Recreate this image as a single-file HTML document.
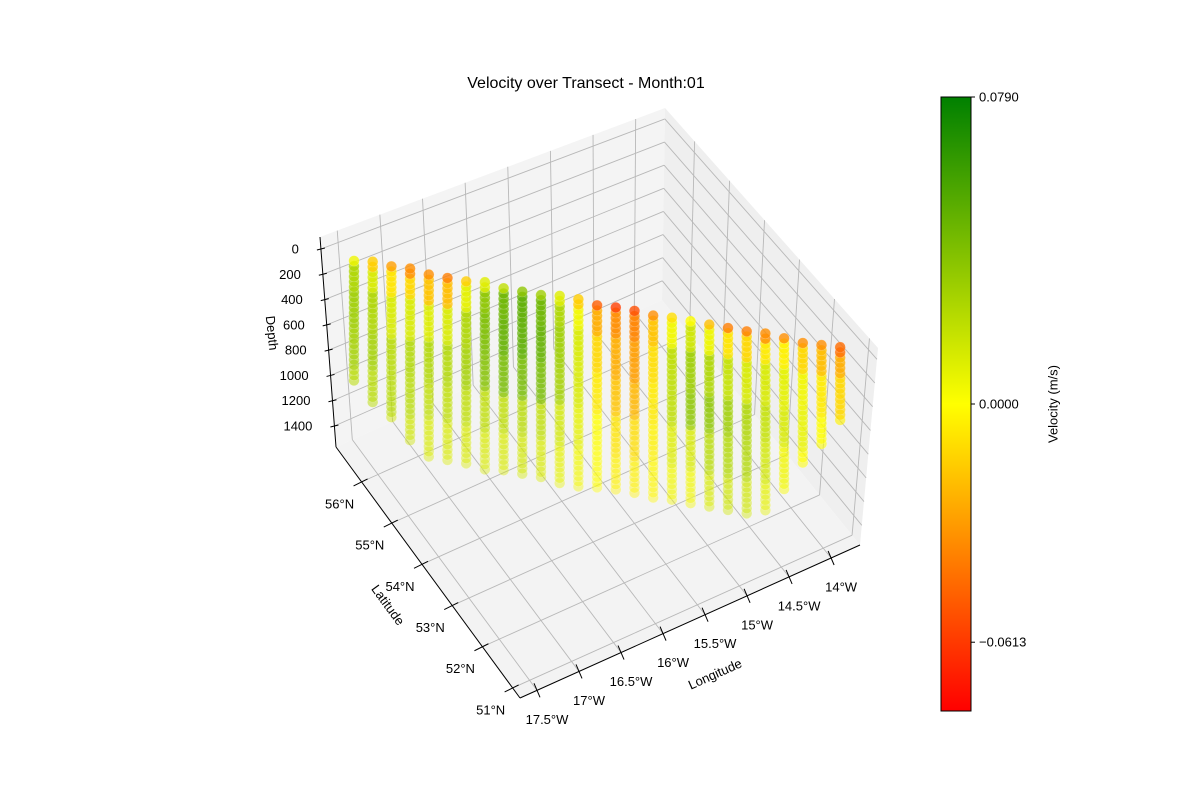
<!DOCTYPE html>
<html><head><meta charset="utf-8">
<style>
body{margin:0;background:#fff;}
svg{display:block;font-family:"Liberation Sans","DejaVu Sans",sans-serif;}
</style></head>
<body>
<svg id="c" width="1200" height="800" viewBox="0 0 1200 800">
<text x="586" y="88" font-size="16" text-anchor="middle">Velocity over Transect - Month:01</text>
<g id="panes"></g>
<g id="grid"></g>
<g id="axes"></g>
<g id="pts"></g>
<g id="cbar"></g>
</svg>
<script>
// ---- data ----
const stationIndex = [0,1,2,3,4,5,6,7,8,9,10,11,12,13,14,15,16,17,18,19,20,21,22,23,24,25,26];
const maxDepth = [950,1090,1180,1330,1430,1430,1430,1450,1430,1430,1430,1450,1450,1430,1420,1420,1430,1420,1420,1420,1420,1420,1370,1180,950,780,570];
const bandTops = [0,60,250,550,850,1150];
const velSurface = [0.005,-0.015,-0.03,-0.035,-0.035,-0.04,-0.015,0.01,0.02,0.035,0.03,0.01,-0.015,-0.05,-0.06,-0.055,-0.035,-0.01,0.0,-0.02,-0.04,-0.04,-0.035,-0.035,-0.035,-0.035,-0.045];
const velUpper = [0.025,0.012,-0.008,-0.012,-0.018,-0.02,0.008,0.035,0.045,0.05,0.045,0.025,0.004,-0.025,-0.035,-0.038,-0.018,0.004,0.015,0.005,-0.008,-0.012,-0.006,-0.004,-0.012,-0.02,-0.025];
const velMid1 = [0.03,0.025,0.012,0.012,0.01,0.012,0.025,0.04,0.048,0.05,0.048,0.03,0.012,-0.012,-0.025,-0.03,-0.01,0.02,0.03,0.025,0.018,0.012,0.012,0.008,0.004,-0.006,-0.012];
const velMid2 = [0.028,0.028,0.022,0.024,0.024,0.024,0.028,0.038,0.042,0.042,0.042,0.028,0.012,-0.006,-0.018,-0.022,-0.006,0.02,0.035,0.035,0.03,0.025,0.018,0.012,0.006,0.0,-0.004];
const velDeep1 = [0.022,0.022,0.022,0.022,0.02,0.02,0.02,0.02,0.02,0.022,0.02,0.014,0.008,0.0,-0.008,-0.01,-0.004,0.01,0.012,0.022,0.024,0.024,0.014,0.004,0.0,0.0,0.0];
const velDeep2 = [0.015,0.015,0.015,0.015,0.012,0.012,0.012,0.012,0.012,0.014,0.012,0.008,0.004,0.0,-0.004,-0.004,-0.002,0.004,0.004,0.012,0.015,0.015,0.008,0.002,0.0,0.0,0.0];
const depthTicks = [0,200,400,600,800,1000,1200,1400];
const latTicks = [56,55,54,53,52,51];
const lonTicks = [-17.5,-17,-16.5,-16,-15.5,-15,-14.5,-14];
const lonLabels = ["17.5°W","17°W","16.5°W","16°W","15.5°W","15°W","14.5°W","14°W"];
const cbarTicks = [0.079,0.0,-0.0613];
const cbarLabels = ["0.0790","0.0000","\u22120.0613"];
const vmin=-0.079, vmax=0.079;

const NS="http://www.w3.org/2000/svg";
function mk(p,t,a){const e=document.createElementNS(NS,t);for(const k in a)e.setAttribute(k,a[k]);p.appendChild(e);return e;}
const L=[336,447],B=[662,300],F=[520,698],R=[860,545],TL=[320,237],TB=[665,108],TR=[878,348];
function lerp(a,b,t){return [a[0]+(b[0]-a[0])*t,a[1]+(b[1]-a[1])*t];}
function floorP(u,v){const a=lerp(L,B,u),b=lerp(F,R,u);return lerp(a,b,v);}
const lonU=lon=>0.05+(lon+17.5)*0.865/3.5;
const latV=lat=>0.139+(56-lat)*0.821/5;
const depthW=d=>(d+95)/1661;
function colorOf(v){let r,g,b=0;if(v>=0){const t=Math.min(1,v/vmax);r=255*(1-t);g=255-127*t;}else{const t=Math.min(1,-v/(-vmin));r=255;g=255*(1-t);}return `rgb(${r|0},${g|0},${b})`;}

const panes=document.getElementById('panes');
let e;
e=mk(panes,'polygon',{points:[TL,TB,B,L].join(' '),fill:'#f4f4f4'});


e=mk(panes,'polygon',{points:[TB,TR,R,B].join(' '),fill:'#efefef'});


e=mk(panes,'polygon',{points:[L,B,R,F].join(' '),fill:'#f3f3f3'});



const grid=document.getElementById('grid');
const gs={stroke:'#b8b8b8','stroke-width':0.9,fill:'none'};
function gl(a,b,name){const l=mk(grid,'line',Object.assign({x1:a[0],y1:a[1],x2:b[0],y2:b[1]},gs));}
depthTicks.forEach(d=>{const w=depthW(d);
  gl(lerp(TL,L,w),lerp(TB,B,w),'depth-grid-left');
  gl(lerp(TB,B,w),lerp(TR,R,w),'depth-grid-right');});
lonTicks.forEach(lon=>{const u=lonU(lon);
  const f=floorP(u,0),g=floorP(u,1);gl(f,g,'lon-grid-floor');
  gl(f,lerp(TL,TB,u),'lon-grid-wall');});
latTicks.forEach(lat=>{const v=latV(lat);
  const f=floorP(0,v),g=floorP(1,v);gl(f,g,'lat-grid-floor');
  gl(g,lerp(TB,TR,v),'lat-grid-wall');});

const axes=document.getElementById('axes');
function al(a,b,name){const l=mk(axes,'line',{x1:a[0],y1:a[1],x2:b[0],y2:b[1],stroke:'#000','stroke-width':1});}
function tx(x,y,s,name,extra){const t=mk(axes,'text',Object.assign({x:x,y:y,'font-size':13,'text-anchor':'middle','dominant-baseline':'central'},extra||{}));t.textContent=s;return t;}
al(TL,L,'depth-axis-line');
depthTicks.forEach(d=>{const p=lerp(TL,L,depthW(d));al([p[0]-4,p[1]+1],[p[0]+4,p[1]-1],'depth-tick');
  tx(p[0]-22,p[1],String(d),'depth-tick-label',{'text-anchor':'end'});});
tx(272,333,'Depth','depth-axis-title',{transform:'rotate(84 272 333)'});
al(L,F,'latitude-axis-line');
latTicks.forEach(lat=>{const p=floorP(0,latV(lat));al([p[0]-8,p[1]+4],[p[0]+6,p[1]-3],'lat-tick');
  tx(p[0]-22,p[1]+22,lat+'°N','lat-tick-label');});
tx(388,605,'Latitude','latitude-axis-title',{transform:'rotate(54 388 605)'});
al(F,R,'longitude-axis-line');
lonTicks.forEach((lon,i)=>{const p=floorP(lonU(lon),1);al([p[0]-3,p[1]-7],[p[0]+3,p[1]+7],'lon-tick');
  tx(p[0]+10,p[1]+29,lonLabels[i],'lon-tick-label');});
tx(715,674,'Longitude','longitude-axis-title',{transform:'rotate(-24 715 674)'});

const pts=document.getElementById('pts');
const colX=i=>354+i*18.7, colTop=i=>257+i*3.42, dScale=0.13;
const bands=[velSurface,velUpper,velMid1,velMid2,velDeep1,velDeep2];
function velAt(i,d){let k=0;for(let j=0;j<bandTops.length;j++)if(d>=bandTops[j])k=j;return bands[k][i];}
stationIndex.forEach(i=>{
  for(let d=maxDepth[i];d>=0;d-=40){
    const y=colTop(i)+d*dScale;
    const a=0.8-0.4*(d/1450);
    const c=mk(pts,'circle',{cx:colX(i).toFixed(1),cy:y.toFixed(1),r:5.3,fill:colorOf(velAt(i,d)),'fill-opacity':a.toFixed(2),stroke:'#fff','stroke-opacity':0.25,'stroke-width':0.6});
    
    
  }
});

const cb=document.getElementById('cbar');
const defs=mk(cb,'defs',{});
const lg=mk(defs,'linearGradient',{id:'cg',x1:0,y1:0,x2:0,y2:1});
mk(lg,'stop',{offset:'0',  'stop-color':colorOf(vmax)});
mk(lg,'stop',{offset:'0.5','stop-color':colorOf(0)});
mk(lg,'stop',{offset:'1',  'stop-color':colorOf(vmin)});
const cy0=97,cy1=711;
const cbY=v=>cy0+(vmax-v)/(vmax-vmin)*(cy1-cy0);
e=mk(cb,'rect',{x:941,y:cy0,width:30,height:cy1-cy0,fill:'url(#cg)',stroke:'#000','stroke-width':1});


cbarTicks.forEach((v,i)=>{const y=cbY(v);
  const l=mk(cb,'line',{x1:971,y1:y,x2:975,y2:y,stroke:'#000'});
  
  
  const t=mk(cb,'text',{x:979,y:y,'font-size':13,'dominant-baseline':'central'});t.textContent=cbarLabels[i];
  
  });
const ct=mk(cb,'text',{x:1053,y:404,'font-size':13,'text-anchor':'middle','dominant-baseline':'central',transform:'rotate(-90 1053 404)'});ct.textContent='Velocity (m/s)';


</script>
</body></html>
